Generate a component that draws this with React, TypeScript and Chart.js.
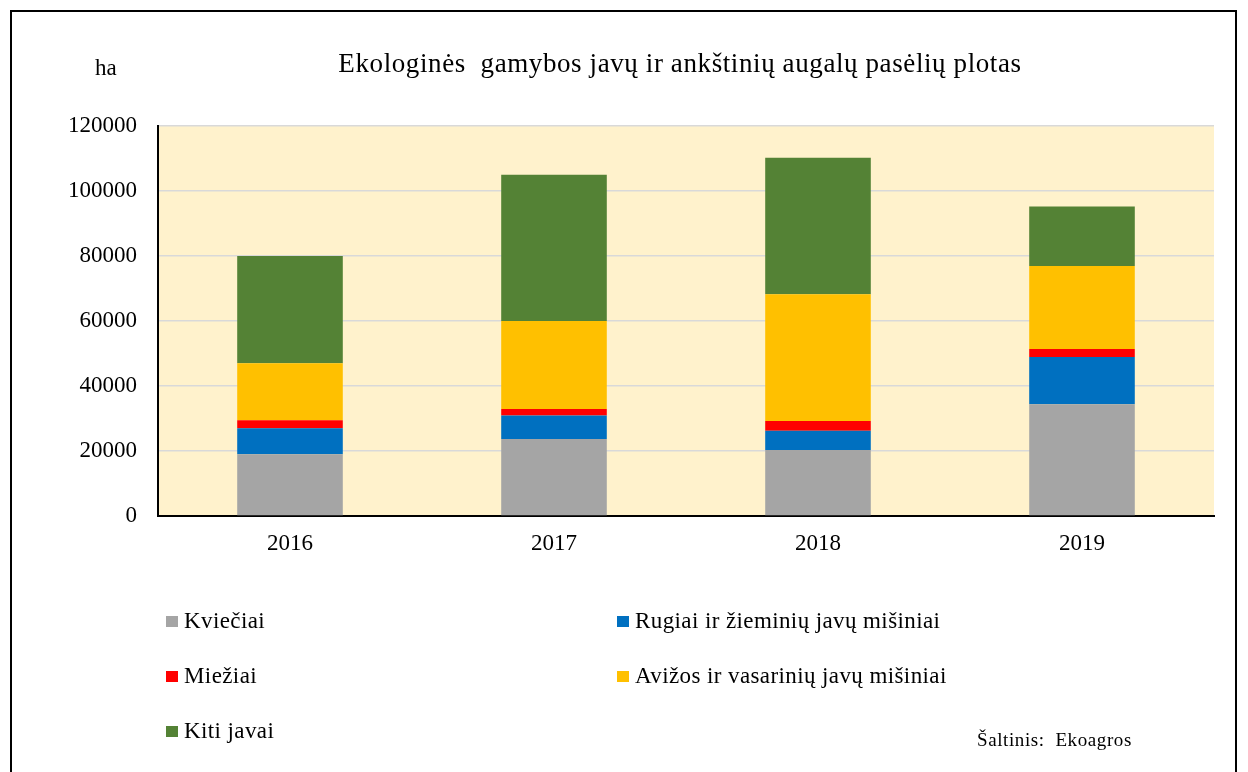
import React, { useEffect, useRef } from "react";
import { Chart, registerables } from "chart.js";

Chart.register(...registerables);

const categories = ["2016", "2017", "2018", "2019"];
const kvieciai = [19000, 23700, 20300, 34400];
const rugiai = [8000, 7200, 5900, 14500];
const miezai = [2500, 2000, 3000, 2500];
const avizos = [17500, 27100, 39000, 25500];
const kiti = [33000, 45000, 42000, 18300];

const seriesNames = [
  "Kviečiai",
  "Rugiai ir žieminių javų mišiniai",
  "Miežiai",
  "Avižos ir vasarinių javų mišiniai",
  "Kiti javai",
];
const seriesColors = ["#A5A5A5", "#0070C0", "#FF0000", "#FFC000", "#548235"];
const seriesValues = [kvieciai, rugiai, miezai, avizos, kiti];

const yMin = 0;
const yMax = 120000;
const yStep = 20000;

const titleText = "Ekologinės  gamybos javų ir ankštinių augalų pasėlių plotas";
const unitText = "ha";
const sourceText = "Šaltinis:  Ekoagros";

const FONT = '"Liberation Serif", "Times New Roman", serif';

const plotBg = {
  id: "plotBg",
  beforeDraw(chart: any) {
    const { ctx, chartArea } = chart;
    ctx.save();
    ctx.fillStyle = "#FFF2CC";
    ctx.fillRect(chartArea.left, chartArea.top, chartArea.right - chartArea.left, chartArea.bottom - chartArea.top);
    ctx.restore();
  },
};

export default function App() {
  const ref = useRef<HTMLCanvasElement | null>(null);

  useEffect(() => {
    document.body.style.margin = "0";
    const canvas = ref.current;
    if (!canvas) return;
    const chart = new Chart(canvas, {
      type: "bar",
      data: {
        labels: categories,
        datasets: seriesNames.map((name, i) => ({
          label: name,
          data: seriesValues[i],
          backgroundColor: seriesColors[i],
          borderWidth: 0,
          barPercentage: 0.4,
          categoryPercentage: 1.0,
        })),
      },
      options: {
        responsive: false,
        animation: false,
        devicePixelRatio: 1,
        layout: { padding: { left: 0, top: 126, right: 34, bottom: 0 } },
        plugins: {
          legend: { display: false },
          title: { display: false },
          tooltip: { enabled: false },
        },
        scales: {
          x: {
            stacked: true,
            grid: { display: false, drawTicks: false },
            border: { display: true, color: "#000", width: 2 },
            ticks: {
              color: "#000",
              padding: 14,
              font: { family: FONT, size: 23 },
            },
            afterFit: (s: any) => {
              s.height = 772 - 516;
            },
          },
          y: {
            stacked: true,
            min: yMin,
            max: yMax,
            grid: { color: "#D9D9D9", lineWidth: 1.5, drawTicks: false },
            border: { display: true, color: "#000", width: 2 },
            ticks: {
              stepSize: yStep,
              color: "#000",
              padding: 21,
              font: { family: FONT, size: 23 },
              callback: (v: any) => String(v),
            },
            afterFit: (s: any) => {
              s.width = 158;
            },
          },
        },
      },
      plugins: [plotBg],
    });
    return () => chart.destroy();
  }, []);

  const legendPos = [
    { x: 166, y: 621 },
    { x: 617, y: 621 },
    { x: 166, y: 676 },
    { x: 617, y: 676 },
    { x: 166, y: 731 },
  ];

  return (
    <div
      style={{
        position: "absolute",
        left: 0,
        top: 0,
        width: 1248,
        height: 772,
        overflow: "hidden",
        background: "#fff",
        fontFamily: FONT,
        color: "#000",
      }}
    >
      <canvas ref={ref} width={1248} height={772} style={{ position: "absolute", left: 0, top: 0, width: 1248, height: 772 }} />
      <div
        style={{
          position: "absolute",
          left: 10,
          top: 10,
          width: 1227,
          height: 800,
          border: "2px solid #000",
          boxSizing: "border-box",
          pointerEvents: "none",
        }}
      />
      <div
        style={{
          position: "absolute",
          left: 0,
          width: 1360,
          top: 63,
          transform: "translateY(-50%)",
          textAlign: "center",
          fontSize: 27,
          letterSpacing: "0.6px",
          whiteSpace: "pre",
        }}
      >
        {titleText}
      </div>
      <div style={{ position: "absolute", left: 95, top: 68, transform: "translateY(-50%)", fontSize: 23 }}>{unitText}</div>
      {seriesNames.map((name, i) => (
        <div
          key={name}
          style={{
            position: "absolute",
            left: legendPos[i].x,
            top: legendPos[i].y,
            transform: "translateY(-50%)",
            display: "flex",
            alignItems: "center",
            fontSize: 23,
            letterSpacing: "0.4px",
            whiteSpace: "nowrap",
          }}
        >
          <span style={{ display: "inline-block", width: 12, height: 11, background: seriesColors[i], marginRight: 6 }} />
          <span>{name}</span>
        </div>
      ))}
      <div
        style={{
          position: "absolute",
          left: 977,
          top: 740,
          transform: "translateY(-50%)",
          fontSize: 19,
          letterSpacing: "0.6px",
          whiteSpace: "pre",
        }}
      >
        {sourceText}
      </div>
    </div>
  );
}
